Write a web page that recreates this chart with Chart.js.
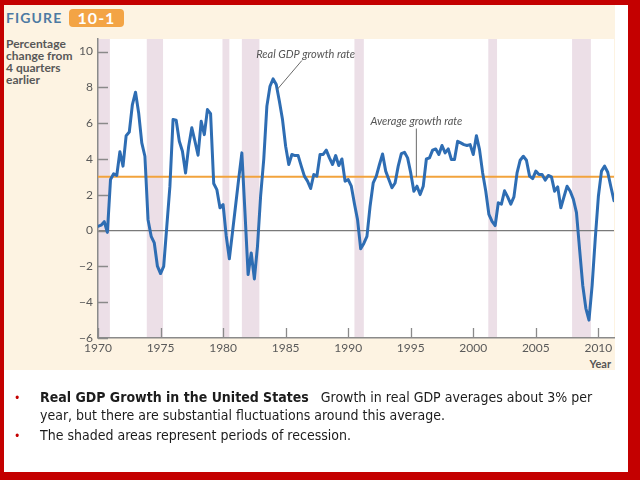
<!DOCTYPE html>
<html>
<head>
<meta charset="utf-8">
<script src="https://cdn.jsdelivr.net/npm/chart.js@4/dist/chart.umd.min.js"></script>
<style>
  html, body { margin: 0; padding: 0; }
  body { width: 640px; height: 480px; background: #c40000; position: relative; overflow: hidden; font-family: Lato, "Open Sans", sans-serif; }
  #slide { position: absolute; left: 4px; top: 5px; width: 624px; height: 467px; background: #ffffff; }
  #panel { position: absolute; left: 4px; top: 5px; width: 611px; height: 365px; background: #fdf3e2; }
  #fig { position: absolute; left: 6px; top: 9px; font: bold 14px Lato, sans-serif; letter-spacing: 1.1px; color: #4d7aa3; }
  #num { position: absolute; left: 69px; top: 9px; width: 55px; height: 18px; border-radius: 4px; background: #f3a445; color: #fff; font: bold 16px Lato, sans-serif; line-height: 18px; text-align: center; letter-spacing: 1px; }
  #ytitle { position: absolute; left: 6px; top: 38px; font: 600 12px Lato, sans-serif; font-weight: bold; line-height: 12px; color: #585858; }
  #year { position: absolute; left: 560px; width: 51px; top: 357px; text-align: right; font: bold 11px Lato, sans-serif; color: #555; }
  canvas#c { position: absolute; left: 0; top: 0; }
  #notes { position: absolute; left: 0; top: 389px; width: 640px; font-family: "DejaVu Sans Condensed", "DejaVu Sans", sans-serif; font-size: 14px; color: #1c1c1c; }
  .row { position: absolute; left: 40px; white-space: nowrap; }
  .bul { position: absolute; left: 14px; color: #c40000; font-size: 12px; }
</style>
</head>
<body>
<div id="slide"></div>
<div id="panel"></div>
<div id="fig">FIGURE</div>
<div id="num">10-1</div>
<div id="ytitle">Percentage<br>change from<br>4 quarters<br>earlier</div>
<div id="year">Year</div>
<canvas id="c" width="640" height="480"></canvas>
<div id="notes">
  <div class="bul" style="top:2px">•</div>
  <div class="row" style="top:0px"><b>Real GDP Growth in the United States</b>&nbsp;&nbsp; Growth in real GDP averages about 3% per</div>
  <div class="row" style="top:18px">year, but there are substantial fluctuations around this average.</div>
  <div class="bul" style="top:40px">•</div>
  <div class="row" style="top:38px">The shaded areas represent periods of recession.</div>
</div>
<script>
// ---- data ----
const firstYear = 1970;           // first quarter plotted: 1970 Q1
const gdpGrowth = [
  0.24, 0.3, 0.5, -0.1,        // 1970
  2.85, 3.17, 3.08, 4.4,       // 1971
  3.6, 5.3, 5.5, 7.04,         // 1972
  7.73, 6.57, 4.9, 4.15,       // 1973
  0.61, -0.32, -0.69, -1.99,   // 1974
  -2.4, -2.0, 0.24, 2.48,      // 1975
  6.2, 6.16, 4.99, 4.43,       // 1976
  3.22, 4.71, 5.74, 4.99,      // 1977
  4.21, 6.1, 5.36, 6.76,       // 1978
  6.53, 2.63, 2.29, 1.27,      // 1979
  1.45, -0.3, -1.58, -0.1,     // 1980
  1.4, 2.9, 4.34, 1.0,         // 1981
  -2.46, -1.25, -2.7, -0.88,   // 1982
  1.92, 3.97, 6.95, 8.06,      // 1983
  8.47, 8.16, 7.22, 6.2,       // 1984
  4.71, 3.69, 4.25, 4.19,      // 1985
  4.19, 3.6, 3.04, 2.76,       // 1986
  2.35, 3.13, 3.04, 4.25,      // 1987
  4.25, 4.49, 4.06, 3.69,      // 1988
  4.19, 3.63, 4.0, 2.76,       // 1989
  2.85, 2.48, 1.5, 0.6,        // 1990
  -1.02, -0.72, -0.32, 1.36,   // 1991
  2.66, 3.04, 3.69, 4.28,      // 1992
  3.32, 2.85, 2.39, 2.66,      // 1993
  3.6, 4.3, 4.37, 4.06,        // 1994
  3.22, 2.2, 2.48, 2.01,       // 1995
  2.48, 4.0, 4.06, 4.49,       // 1996
  4.56, 4.25, 4.75, 4.34,      // 1997
  4.56, 3.97, 3.97, 4.99,      // 1998
  4.9, 4.8, 4.75, 4.8,         // 1999
  4.25, 5.3, 4.52, 3.22,       // 2000
  2.2, 0.9, 0.52, 0.28,        // 2001
  1.55, 1.48, 2.22, 1.88,      // 2002
  1.48, 1.88, 3.22, 3.93,      // 2003
  4.15, 3.93, 3.04, 2.9,       // 2004
  3.32, 3.13, 3.13, 2.82,      // 2005
  3.08, 3.0, 2.2, 2.44,        // 2006
  1.27, 1.88, 2.48, 2.2,       // 2007
  1.75, 1.0, -1.05, -3.05,     // 2008
  -4.34, -5.0, -3.07, -0.47,   // 2009
  1.9, 3.32, 3.6, 3.26,        // 2010
  2.45, 1.67                   // 2011
];
const averageGrowth = 3;
const recessionStarts = [1969.9, 1973.9, 1979.95, 1981.5, 1990.5, 2001.2, 2007.9];
const recessionEnds   = [1970.95, 1975.2, 1980.5, 1982.9, 1991.25, 2001.9, 2009.4];
const xTickYears = [1970, 1975, 1980, 1985, 1990, 1995, 2000, 2005, 2010];
const yTickValues = [-6, -4, -2, 0, 2, 4, 6, 8, 10];

// ---- styling / layout ----
const X_MIN = 1970, X_MAX = 2011.25, Y_MIN = -6, Y_MAX = 10.7;
const notes = [
  { text: 'Real GDP growth rate', x: 1986.6, y: 9.85, from: [1986.3, 9.5], to: [1984.35, 7.9] },
  { text: 'Average growth rate', x: 1995.45, y: 6.1, from: [1995.45, 5.7], to: [1995.45, 3.0] }
];
const axisColor = '#8a8a8a';
const labelFont = { family: 'Lato', size: 12 };

const gdpPoints = gdpGrowth.map((v, i) => ({ x: firstYear + i / 4, y: v }));
const avgPoints = [{ x: X_MIN, y: averageGrowth }, { x: X_MAX, y: averageGrowth }];

const backdrop = {
  id: 'backdrop',
  beforeDraw(chart) {
    const { ctx, chartArea: a, scales: { x } } = chart;
    ctx.save();
    ctx.fillStyle = '#ffffff';
    ctx.fillRect(a.left, a.top, a.right - a.left, a.bottom - a.top);
    ctx.fillStyle = '#ecdfe7';
    recessionStarts.forEach((s, i) => {
      const x0 = Math.max(x.getPixelForValue(s), a.left);
      const x1 = Math.min(x.getPixelForValue(recessionEnds[i]), a.right);
      ctx.fillRect(x0, a.top, x1 - x0, a.bottom - a.top);
    });
    ctx.restore();
  },
  beforeDatasetsDraw(chart) {
    const { ctx, chartArea: a, scales: { x, y } } = chart;
    ctx.save();
    ctx.strokeStyle = axisColor;
    ctx.lineWidth = 1.3;
    ctx.beginPath();
    yTickValues.forEach(v => {
      const py = Math.round(y.getPixelForValue(v)) + 0.5;
      ctx.moveTo(a.left, py); ctx.lineTo(a.left + 10, py);
    });
    xTickYears.forEach(v => {
      const px = Math.round(x.getPixelForValue(v)) + 0.5;
      ctx.moveTo(px, a.bottom); ctx.lineTo(px, a.bottom - 10);
    });
    ctx.stroke();
    ctx.restore();
  },
  afterDatasetsDraw(chart) {
    const { ctx, scales: { x, y } } = chart;
    ctx.save();
    ctx.strokeStyle = '#6a6a6a';
    ctx.lineWidth = 1;
    ctx.fillStyle = '#555';
    ctx.font = 'italic 11px Lato';
    ctx.textAlign = 'center';
    ctx.textBaseline = 'middle';
    notes.forEach(n => {
      ctx.beginPath();
      ctx.moveTo(x.getPixelForValue(n.from[0]), y.getPixelForValue(n.from[1]));
      ctx.lineTo(x.getPixelForValue(n.to[0]), y.getPixelForValue(n.to[1]));
      ctx.stroke();
      ctx.fillText(n.text, x.getPixelForValue(n.x), y.getPixelForValue(n.y));
    });
    ctx.restore();
  }
};

new Chart(document.getElementById('c'), {
  type: 'line',
  data: {
    datasets: [
      { data: avgPoints, borderColor: '#f2a33c', borderWidth: 2, pointRadius: 0, order: 2 },
      { data: gdpPoints, borderColor: '#2e6db3', borderWidth: 3, pointRadius: 0, borderJoinStyle: 'round', borderCapStyle: 'round', tension: 0, order: 1 }
    ]
  },
  options: {
    responsive: false,
    animation: false,
    devicePixelRatio: 1,
    layout: { padding: { left: 0, top: 39, right: 26, bottom: 112 } },
    plugins: { legend: { display: false }, tooltip: { enabled: false } },
    scales: {
      x: {
        type: 'linear', min: X_MIN, max: X_MAX,
        afterBuildTicks: s => { s.ticks = xTickYears.map(v => ({ value: v })); },
        afterFit: s => { s.height = 30; },
        ticks: { autoSkip: false, maxRotation: 0, padding: 3, color: '#5a5a5a', font: labelFont, callback: v => String(v) },
        grid: { display: false, drawTicks: false },
        border: { display: true, color: axisColor, width: 1.5 }
      },
      y: {
        type: 'linear', min: Y_MIN, max: Y_MAX,
        afterBuildTicks: s => { s.ticks = yTickValues.map(v => ({ value: v })); },
        afterFit: s => { s.width = 98; },
        ticks: { padding: 5, color: '#5a5a5a', font: labelFont, callback: v => (v < 0 ? '\u2212' + Math.abs(v) : String(v)) },
        grid: { drawTicks: false, color: c => (c.tick && c.tick.value === 0 ? '#7a7a7a' : 'rgba(0,0,0,0)'), lineWidth: 1.2 },
        border: { display: true, color: axisColor, width: 1.5 }
      }
    }
  },
  plugins: [backdrop]
});
</script>
</body>
</html>
